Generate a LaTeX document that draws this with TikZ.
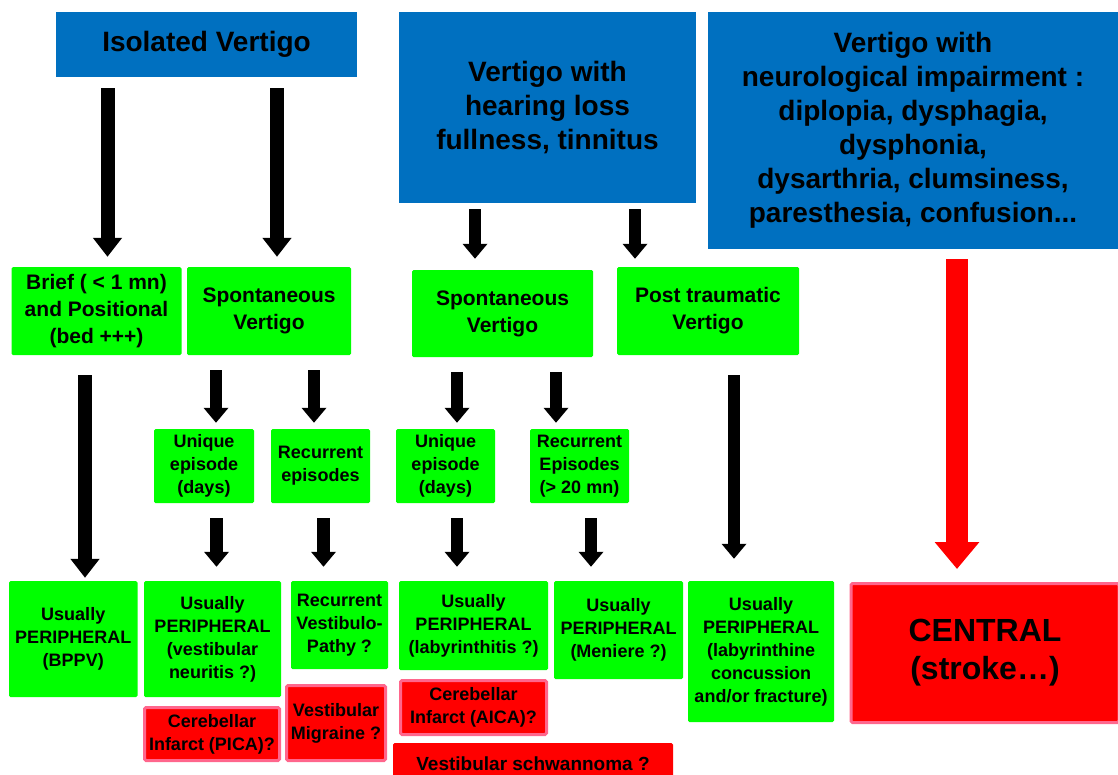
\documentclass[tikz,border=0pt]{standalone}
\usepackage{fontspec}
\setmainfont{Liberation Sans}
\usetikzlibrary{arrows.meta, positioning}
\definecolor{boxblue}{RGB}{0,112,192}
\definecolor{boxgreen}{RGB}{0,255,0}
\definecolor{boxred}{RGB}{255,0,0}
\definecolor{boxpink}{RGB}{255,102,140}

\begin{document}
\begin{tikzpicture}[x=1pt,y=-1pt,
  box size/.style 2 args={minimum width=#1pt,minimum height=#2pt},
  blue node/.style={fill=boxblue,inner sep=0pt,align=center,font=\bfseries\fontsize{28}{34}\selectfont},
  green node/.style={fill=boxgreen,rounded corners=1.5pt,inner sep=0pt,align=center,font=\bfseries\fontsize{18}{23}\selectfont},
  top green/.style={green node,font=\bfseries\fontsize{21}{27}\selectfont},
  red node/.style={fill=boxred,draw=boxpink,line width=3pt,rounded corners=1.5pt,inner sep=0pt,align=center,font=\bfseries\fontsize{18}{23}\selectfont},
  big arrow/.style={line width=14pt,-{Triangle[width=28pt,length=19pt]}},
  small arrow/.style={line width=12.5pt,-{Triangle[width=24pt,length=15pt]}},
  red arrow/.style={boxred,line width=22pt,-{Triangle[width=43pt,length=27pt]}}]
  \clip (0,0) rectangle (1118,774);

  \node[blue node,box size={301}{65}] (iso) at (206.5,44.5) {Isolated Vertigo};
  \node[blue node,box size={297}{191}] (hear) at (547.5,107.5) {Vertigo with\\hearing loss\\fullness, tinnitus};
  \node[blue node,box size={410}{237}] (neuro) at (913,130.5) {Vertigo with\\neurological impairment :\\diplopia, dysphagia,\\dysphonia,\\dysarthria, clumsiness,\\paresthesia, confusion...};

  \node[top green,box size={170}{88}] (brief) at (96.5,311) {Brief ( < 1 mn)\\and Positional\\(bed +++)};
  \node[top green,box size={164}{88}] (spont1) at (269,311) {Spontaneous\\Vertigo};
  \node[top green,box size={181}{87}] (spont2) at (502.5,313.5) {Spontaneous\\Vertigo};
  \node[top green,box size={182}{88}] (post) at (708,311) {Post traumatic\\Vertigo};

  \node[green node,box size={100}{74}] (uniq1) at (204,466) {Unique\\episode\\(days)};
  \node[green node,box size={99}{74}] (recur1) at (320.5,466) {Recurrent\\episodes};
  \node[green node,box size={99}{74}] (uniq2) at (445.5,466) {Unique\\episode\\(days)};
  \node[green node,box size={99}{74}] (recur2) at (579.5,466) {Recurrent\\Episodes\\(> 20 mn)};

  \node[green node,box size={128.5}{116}] (bppv) at (73.25,639) {Usually\\PERIPHERAL\\(BPPV)};
  \node[green node,box size={137}{116}] (neuritis) at (212.5,639) {Usually\\PERIPHERAL\\(vestibular\\neuritis ?)};
  \node[green node,box size={97}{88}] (vpathy) at (339.5,625) {Recurrent\\Vestibulo-\\Pathy ?};
  \node[green node,box size={149}{89}] (labyr) at (473.5,625.5) {Usually\\PERIPHERAL\\(labyrinthitis  ?)};
  \node[green node,box size={129}{98}] (meniere) at (618.5,630) {Usually\\PERIPHERAL\\(Meniere ?)};
  \node[green node,box size={146}{141}] (labconc) at (761,651.5) {Usually\\PERIPHERAL\\(labyrinthine\\concussion\\and/or fracture)};
  \node[red node,box size={268}{139},font=\bfseries\fontsize{32}{38}\selectfont] (central) at (985,653) {CENTRAL\\(stroke\ldots)};

  \node[red node,box size={135}{53}] (pica) at (212,734) {Cerebellar\\Infarct (PICA)?};
  \node[red node,box size={99}{75}] (migraine) at (336,723) {Vestibular\\Migraine ?};
  \node[red node,box size={146}{54}] (aica) at (473.5,707.5) {Cerebellar\\Infarct (AICA)?};
  \node[red node,draw=none,box size={280}{42},font=\bfseries\fontsize{19}{23}\selectfont] (schwan) at (533,764) {Vestibular schwannoma ?};

  \draw[big arrow,shorten <=11pt,shorten >=10pt] ([xshift=-99pt]iso.south) -- ([xshift=11pt]brief.north);
  \draw[big arrow,shorten <=11pt,shorten >=10pt] ([xshift=70.5pt]iso.south) -- ([xshift=8pt]spont1.north);
  \draw[small arrow,shorten <=6pt,shorten >=11pt] ([xshift=-72.5pt]hear.south) -- ([xshift=-27.5pt]spont2.north);
  \draw[small arrow,shorten <=6pt,shorten >=8pt] ([xshift=87.5pt]hear.south) -- ([xshift=-73pt]post.north);
  \draw[red arrow,shorten <=10pt,shorten >=13pt] ([xshift=44pt]neuro.south) -- ([xshift=-28pt]central.north);
  \draw[big arrow,shorten <=20pt,shorten >=3pt] ([xshift=-11.5pt]brief.south) -- ([xshift=11.75pt]bppv.north);
  \foreach \s/\t/\a/\b in {spont1/uniq1/-53/12, spont1/recur1/45/-6.5, spont2/uniq2/-45.5/11.5, spont2/recur2/53.5/-23.5}
    {\draw[small arrow,shorten <=15pt,shorten >=6pt] ([xshift=\a pt]\s.south) -- ([xshift=\b pt]\t.north);}
  \foreach \s/\t/\a/\b in {uniq1/neuritis/12.5/4, recur1/vpathy/3/-16, uniq2/labyr/11.5/-16.5, recur2/meniere/11.5/-27.5}
    {\draw[small arrow,shorten <=15pt,shorten >=14pt] ([xshift=\a pt]\s.south) -- ([xshift=\b pt]\t.north);}
  \draw[small arrow,shorten <=20pt,shorten >=22pt] ([xshift=26pt]post.south) -- ([xshift=-27pt]labconc.north);
\end{tikzpicture}
\end{document}
